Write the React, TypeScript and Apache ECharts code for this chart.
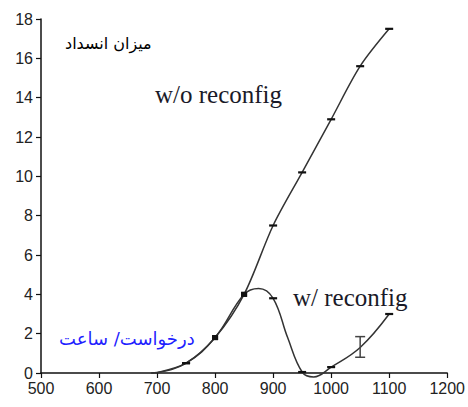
import React, { useEffect, useRef } from "react";
import * as echarts from "echarts";

const xTicks = [500, 600, 700, 800, 900, 1000, 1100, 1200];
const yTicks = [0, 2, 4, 6, 8, 10, 12, 14, 16, 18];

const woX = [690, 700, 750, 800, 850, 900, 950, 1000, 1050, 1100];
const woY = [0, 0.02, 0.5, 1.8, 4.0, 7.5, 10.2, 12.9, 15.6, 17.5];
// 0 = no marker, 1 = dash cap, 2 = square
const woMarked = [0, 0, 1, 2, 2, 1, 1, 1, 1, 1];

const wX = [690, 700, 750, 800, 850, 875, 900, 925, 950, 970, 1000, 1050, 1100];
const wY = [0, 0.02, 0.5, 1.8, 4.0, 4.3, 3.8, 1.8, 0.05, -0.2, 0.3, 1.3, 3.0];
const wMarked = [0, 0, 1, 2, 2, 0, 1, 0, 1, 0, 1, 0, 1];

const errX = [1050];
const errLow = [0.8];
const errHigh = [1.85];

export default function App() {
  const ref = useRef<HTMLDivElement>(null);
  useEffect(() => {
    if (!ref.current) return;
    const chart = echarts.init(ref.current, null, { renderer: "svg" });
    const lineData = (xs: number[], ys: number[], marked: number[]) =>
      xs.map((x, i) => ({
        value: [x, ys[i]],
        symbol: marked[i] ? "rect" : "none",
        symbolSize: marked[i] === 2 ? [6, 5] : [8, 2.2],
      }));
    const axisFont = { fontFamily: "Liberation Sans, Arial, sans-serif", fontSize: 16, color: "#222" };
    chart.setOption({
      animation: false,
      grid: { left: 41, right: 19, top: 19, bottom: 34, containLabel: false },
      xAxis: {
        type: "value",
        min: xTicks[0],
        max: xTicks[xTicks.length - 1],
        interval: 100,
        axisLine: { show: true, lineStyle: { color: "#111", width: 1.5 } },
        axisTick: { show: true, length: 5, lineStyle: { color: "#111", width: 1.2 } },
        axisLabel: { ...axisFont, margin: 7, formatter: (v: number) => String(v) },
        splitLine: { show: false },
      },
      yAxis: {
        type: "value",
        min: yTicks[0],
        max: yTicks[yTicks.length - 1],
        interval: 2,
        axisLine: { show: true, lineStyle: { color: "#111", width: 1.5 } },
        axisTick: { show: true, length: 5, lineStyle: { color: "#111", width: 1.2 } },
        axisLabel: { ...axisFont, margin: 8, formatter: (v: number) => String(v) },
        splitLine: { show: false },
      },
      series: [
        {
          type: "line",
          data: lineData(woX, woY, woMarked),
          smooth: 0.3,
          clip: false,
          lineStyle: { color: "#333", width: 1.5 },
          itemStyle: { color: "#111" },
          z: 3,
        },
        {
          type: "line",
          data: lineData(wX, wY, wMarked),
          smooth: 0.4,
          clip: false,
          lineStyle: { color: "#333", width: 1.5 },
          itemStyle: { color: "#111" },
          z: 3,
        },
        {
          type: "custom",
          data: errX.map((x, i) => [x, errLow[i], errHigh[i]]),
          renderItem: (params: any, api: any) => {
            const x = api.value(0);
            const lo = api.coord([x, api.value(1)]);
            const hi = api.coord([x, api.value(2)]);
            const w = 5;
            const st = { stroke: "#444", lineWidth: 1.5 };
            return {
              type: "group",
              children: [
                { type: "line", shape: { x1: lo[0], y1: lo[1], x2: hi[0], y2: hi[1] }, style: st },
                { type: "line", shape: { x1: lo[0] - w, y1: lo[1], x2: lo[0] + w, y2: lo[1] }, style: st },
                { type: "line", shape: { x1: hi[0] - w, y1: hi[1], x2: hi[0] + w, y2: hi[1] }, style: st },
              ],
            };
          },
          z: 4,
        },
      ],
      graphic: [
        {
          type: "text",
          left: 65,
          top: 35,
          style: { text: "میزان انسداد", fontSize: 16, fill: "#000", fontFamily: "DejaVu Sans, Noto Sans, sans-serif" },
        },
        {
          type: "text",
          left: 155,
          top: 82,
          style: { text: "w/o reconfig", fontSize: 25, fill: "#1a1a28", fontFamily: "Liberation Serif, Times New Roman, serif" },
        },
        {
          type: "text",
          left: 293,
          top: 285,
          style: { text: "w/ reconfig", fontSize: 25, fill: "#1a1a28", fontFamily: "Liberation Serif, Times New Roman, serif" },
        },
        {
          type: "text",
          left: 59,
          top: 329,
          style: { text: "درخواست/ ساعت", fontSize: 18, fill: "#1f1fff", fontFamily: "DejaVu Sans, Noto Sans, sans-serif" },
        },
      ],
    });
    return () => chart.dispose();
  }, []);
  return <div ref={ref} style={{ width: 468, height: 407, position: "absolute", left: 0, top: 0 }} />;
}
